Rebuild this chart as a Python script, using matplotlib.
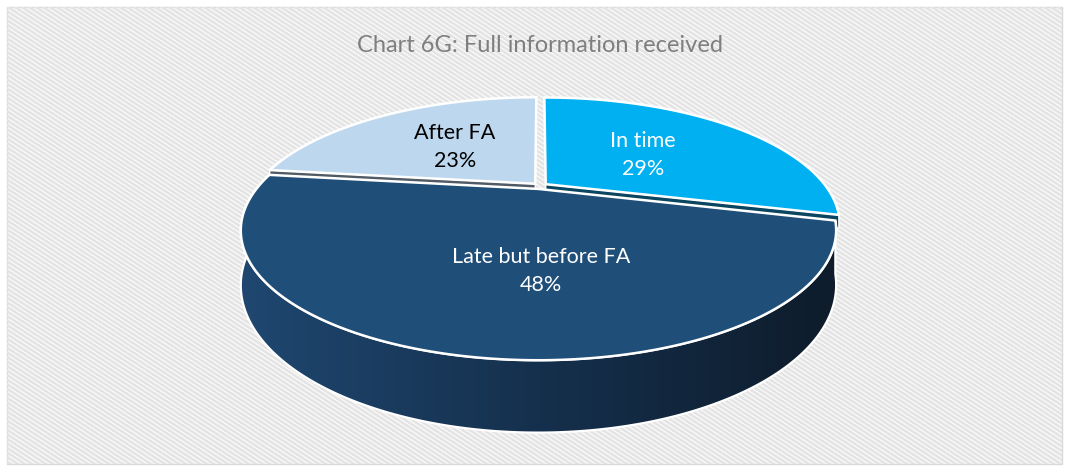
import numpy as np
import matplotlib
matplotlib.use("Agg")
import matplotlib.pyplot as plt
from matplotlib.patches import Polygon, Rectangle
from matplotlib.collections import LineCollection
from matplotlib.colors import LinearSegmentedColormap

# data
labels = ["In time", "Late but before FA", "After FA"]
shares = [29, 48, 23]
colors = ["#00B0F0", "#1F4E79", "#BDD7EE"]
cut_colors = ["#0b4660", "#10263d", "#505b66"]
text_colors = ["white", "white", "black"]
title = "Chart 6G: Full information received"

W, H = 1065, 466

# perspective view of the pie (Excel 3-D pie look)
CX, CY = 540, 186
FX = 280      # horizontal scale
YS = 115      # vertical scale
P = 0.315     # perspective strength
DEPTH = 49
EXPLODE = 0.026


def proj(theta, r=1.0, off=(0, 0), down=0.0):
    a = r * np.sin(theta) + off[0]
    b = r * np.cos(theta) + off[1]
    w = 1 + P * b
    sx = CX + FX * a / w
    sy = CY - YS * b / w + down * DEPTH / w
    return np.column_stack([np.atleast_1d(sx), np.atleast_1d(sy)])


plt.rcParams['font.family'] = ['Lato', 'DejaVu Sans']
fig = plt.figure(figsize=(W / 100, H / 100), dpi=100)
ax = fig.add_axes([0, 0, 1, 1])
ax.set_xlim(0, W)
ax.set_ylim(H, 0)
ax.axis("off")

# background: frame with diagonal stripes
frame = Rectangle((7, 7), 1055, 457, facecolor="white", edgecolor="#d9d9d9", lw=1, zorder=0)
ax.add_patch(frame)
s = 0.65
segs = [[(x0, 0), (x0 + H / s, H)] for x0 in np.arange(-H / s, W, 7)]
lc = LineCollection(segs, colors="#e4e4e4", linewidths=2.0, zorder=0.5)
ax.add_collection(lc)
lc.set_clip_path(frame)

# slices, clockwise from 12 o'clock
fr = np.array(shares) / sum(shares)
ends = np.cumsum(fr) * 2 * np.pi
starts = ends - fr * 2 * np.pi
mids = (starts + ends) / 2
offs = [(EXPLODE * np.sin(m), EXPLODE * np.cos(m)) for m in mids]

side_cmap = LinearSegmentedColormap.from_list("side", ["#1f4770", "#15304d", "#0e1c2b"])

order = np.argsort(-np.cos(mids))   # far slices first
for i in order:
    t0, t1, off = starts[i], ends[i], offs[i]
    back = np.cos(mids[i]) > 0
    d = 0.25 if back else 1.0    # back slices: only a sliver of the cut shows
    v_top = proj(0, r=0, off=off)
    v_bot = proj(0, r=0, off=off, down=d)
    # radial faces that look towards the viewer
    for t, vis in [(t1, np.sin(t1) > 0), (t0, np.sin(t0) < 0)]:
        if vis:
            quad = np.vstack([v_top, proj(t, off=off), proj(t, off=off, down=d), v_bot])
            ax.add_patch(Polygon(quad, closed=True, facecolor=cut_colors[i],
                                 edgecolor="white", lw=1.0, zorder=2))
    # outer side, front half only
    a0, a1 = max(t0, np.pi / 2), min(t1, 3 * np.pi / 2)
    if a1 > a0 and not back:
        ts = np.linspace(a0, a1, 200)
        side = np.vstack([proj(ts, off=off), proj(ts[::-1], off=off, down=1.0)])
        xmin, xmax = side[:, 0].min(), side[:, 0].max()
        ymin, ymax = side[:, 1].min(), side[:, 1].max()
        grad = np.linspace(0, 1, 256).reshape(1, -1)
        im = ax.imshow(grad, cmap=side_cmap, extent=[xmin, xmax, ymax, ymin],
                       aspect="auto", zorder=3, interpolation="bilinear")
        im.set_clip_path(Polygon(side, closed=True, transform=ax.transData))
        ax.add_patch(Polygon(side, closed=True, facecolor="none", edgecolor="white",
                             lw=1.6, zorder=3.1))
    # top face
    ts = np.linspace(t0, t1, 300)
    top = np.vstack([v_top, proj(ts, off=off)])
    ax.add_patch(Polygon(top, closed=True, facecolor=colors[i], edgecolor="white",
                         lw=1.8, joinstyle="miter", zorder=4))

# labels
label_pos = [(643, 155), (541, 271), (455, 147)]
for i in range(len(labels)):
    ax.text(label_pos[i][0], label_pos[i][1], f"{labels[i]}\n{shares[i]}%",
            ha="center", va="center", color=text_colors[i], fontsize=15.5,
            linespacing=1.55, zorder=5)

ax.text(540, 45, title, ha="center", va="center", color="#7f7f7f", fontsize=17, zorder=5)

fig.savefig("out.png", dpi=100)
